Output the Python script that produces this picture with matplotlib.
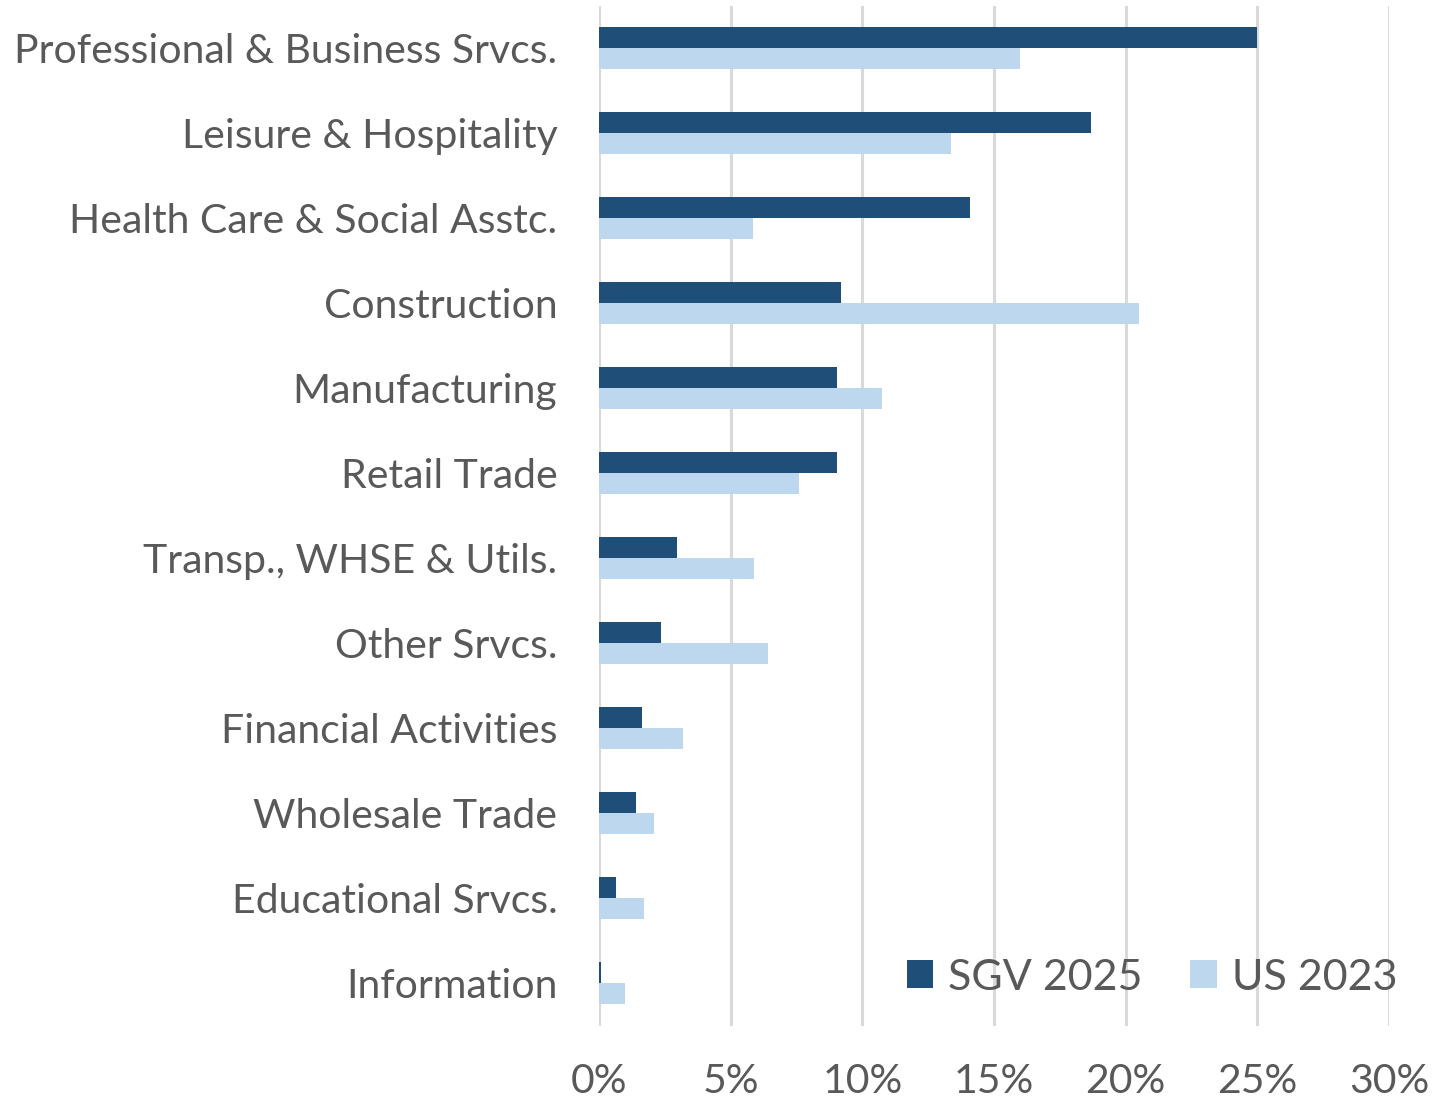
import matplotlib.pyplot as plt
import numpy as np

categories = ['Professional & Business Srvcs.', 'Leisure & Hospitality',
              'Health Care & Social Asstc.', 'Construction', 'Manufacturing',
              'Retail Trade', 'Transp., WHSE & Utils.', 'Other Srvcs.',
              'Financial Activities', 'Wholesale Trade', 'Educational Srvcs.',
              'Information']
sgv_2025 = [25.0, 18.7, 14.1, 9.2, 9.05, 9.05, 2.95, 2.35, 1.65, 1.4, 0.65, 0.08]
us_2023 = [16.0, 13.35, 5.85, 20.5, 10.75, 7.6, 5.9, 6.4, 3.2, 2.1, 1.7, 1.0]
xticks = [0, 5, 10, 15, 20, 25, 30]

dark = '#1F4E79'
light = '#BDD7EE'
txt = '#595959'

plt.rcParams['font.family'] = ['Lato', 'DejaVu Sans']

fig = plt.figure(figsize=(14.34, 11.04), dpi=100)
ax = fig.add_axes([0.4177, 0.0711, 0.5509, 0.9239])

y = np.arange(len(categories))
h = 0.25
ax.barh(y - h / 2, sgv_2025, height=h, color=dark, label='SGV 2025', zorder=3)
ax.barh(y + h / 2, us_2023, height=h, color=light, label='US 2023', zorder=3)

ax.set_ylim(len(categories) - 0.5, -0.5)
ax.set_xlim(0, 30)
ax.set_xticks(xticks)
ax.set_xticklabels([str(t) + '%' for t in xticks])
ax.set_yticks(y)
ax.set_yticklabels(categories)

ax.grid(axis='x', color='#D9D9D9', linewidth=2.2, zorder=0)
for s in ax.spines.values():
    s.set_visible(False)
ax.tick_params(axis='both', length=0, colors=txt, labelsize=29.5)
ax.tick_params(axis='x', pad=27)
ax.tick_params(axis='y', pad=30)

leg = ax.legend(loc='center right', bbox_to_anchor=(1.06, 0.047), ncol=2,
                frameon=False, fontsize=31, handlelength=0.62, handleheight=0.62,
                handletextpad=0.35, columnspacing=1.1)
for t in leg.get_texts():
    t.set_color(txt)

fig.savefig('out.png', dpi=100)
